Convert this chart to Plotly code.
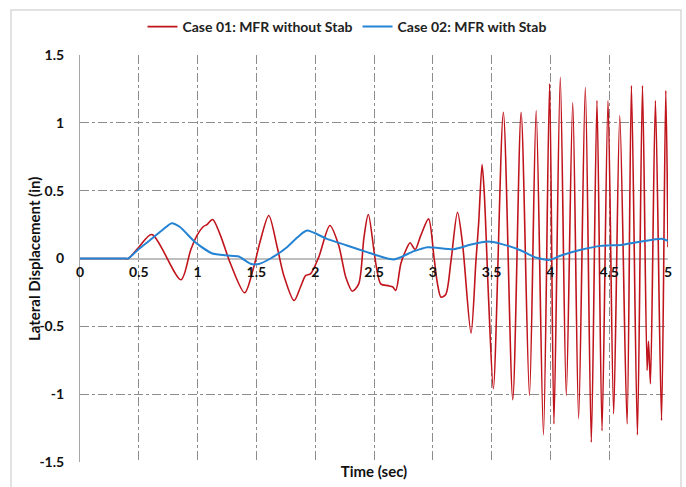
import plotly.graph_objects as go

# ---- data ----
red_t = [0, 0.38, 0.41, 0.50, 0.61, 0.858, 0.94, 0.995, 1.05, 1.08, 1.128, 1.19, 1.28, 1.40,
         1.477, 1.534, 1.605, 1.677, 1.733, 1.82, 1.875, 1.92, 1.96, 2.03, 2.125, 2.20,
         2.26, 2.316, 2.37, 2.415, 2.452, 2.557, 2.62, 2.66, 2.685, 2.728, 2.77, 2.807,
         2.85, 2.898, 2.964, 3.01, 3.04, 3.07, 3.11, 3.155, 3.21, 3.253, 3.325, 3.367,
         3.39, 3.419, 3.438, 3.475, 3.515, 3.60, 3.68, 3.751, 3.822, 3.879, 3.941, 3.993,
         4.03, 4.084, 4.135, 4.19, 4.24, 4.297, 4.348, 4.396, 4.439, 4.49, 4.538, 4.59,
         4.652, 4.689, 4.74, 4.783, 4.822, 4.834, 4.851, 4.893, 4.945, 4.981, 5.0]
red_v = [0, 0, 0, 0.083, 0.177, -0.157, 0.059, 0.17, 0.236, 0.25, 0.287, 0.18, -0.039, -0.253,
         -0.064, 0.133, 0.317, 0.083, -0.125, -0.31, -0.21, -0.125, -0.113, 0.01, 0.243, 0.096,
         -0.138, -0.241, -0.187, 0.157, 0.324, -0.187, -0.20, -0.21, -0.236, -0.039, 0.059, 0.116,
         0.066, 0.17, 0.292, 0.01, -0.187, -0.285, -0.265, -0.015, 0.341, 0.108, -0.55, -0.015,
         0.26, 0.693, 0.477, -0.31, -0.96, 1.078, -1.04, 1.078, -1.01, 1.09, -1.30, 1.29,
         -1.22, 1.336, -1.01, 1.15, -1.18, 1.262, -1.354, 1.164, -1.27, 1.164, -1.145, 1.054,
         -1.22, 1.275, -1.30, 1.275, -0.825, -0.61, -0.923, 1.164, -1.194, 1.238, 0.083]

blue_t = [0, 0.38, 0.41, 0.50, 0.61, 0.70, 0.78, 0.85, 0.98, 1.12, 1.25, 1.35, 1.45, 1.52, 1.62,
          1.76, 1.85, 1.93, 2.10, 2.27, 2.44, 2.53, 2.67, 2.84, 2.955, 3.18, 3.325, 3.467,
          3.58, 3.75, 3.865, 3.99, 4.09, 4.26, 4.43, 4.60, 4.774, 4.945, 5.0]
blue_v = [0, 0, 0, 0.07, 0.145, 0.21, 0.26, 0.232, 0.12, 0.039, 0.022, 0.015, -0.039, -0.04, 0.0,
          0.083, 0.157, 0.206, 0.145, 0.096, 0.047, 0.022, -0.007, 0.054, 0.083, 0.069, 0.103, 0.125,
          0.108, 0.059, 0.01, -0.01, 0.022, 0.064, 0.093, 0.10, 0.125, 0.145, 0.13]

x_ticks = [0, 0.5, 1, 1.5, 2, 2.5, 3, 3.5, 4, 4.5, 5]
x_tick_text = ["0", "0.5", "1", "1.5", "2", "2.5", "3", "3.5", "4", "4.5", "5"]
y_ticks = [-1.5, -1, -0.5, 0, 0.5, 1, 1.5]
y_tick_text = ["-1.5", "-1", "-0.5", "0", "0.5", "1", "1.5"]

FONT = "Lato"
RED = "#C0141C"
BLUE = "#2583D3"
GRID = "#8C8C8C"
TXT = "#111111"

fig = go.Figure()
fig.add_trace(go.Scatter(x=red_t, y=red_v, mode="lines", name="Case 01: MFR without Stab",
                         line=dict(color=RED, width=1.6, shape="spline", smoothing=0.8)))
fig.add_trace(go.Scatter(x=blue_t, y=blue_v, mode="lines", name="Case 02: MFR with Stab",
                         line=dict(color=BLUE, width=2, shape="spline", smoothing=0.6), xaxis="x2"))

W, H = 686, 487
L, R, T, B = 80, 18, 55, 25
pw, ph = W - L - R, H - T - B

def px2paper_x(px):
    return (px - L) / pw

def py2paper_y(py):
    return (H - B - py) / ph

fig.update_layout(
    width=W, height=H,
    margin=dict(l=L, r=R, t=T, b=B, autoexpand=False),
    paper_bgcolor="white", plot_bgcolor="white",
    font=dict(family=FONT, color=TXT),
    showlegend=True,
    legend=dict(orientation="h", x=px2paper_x(347), xanchor="center", y=py2paper_y(27), yanchor="middle",
                font=dict(size=14, family=FONT, color="#222222", weight="bold"),
                bgcolor="rgba(0,0,0,0)"),
    xaxis=dict(range=[0, 5], tickvals=x_ticks, showticklabels=False, showgrid=True,
               gridcolor=GRID, griddash="dashdot", gridwidth=1, zeroline=False,
               showline=False, ticks="",
               title=dict(text="<b>Time (sec)</b>", font=dict(size=15, family=FONT, color=TXT),
                          standoff=4)),
    xaxis2=dict(range=[0, 5], overlaying="x", anchor="free", position=0.5, side="bottom",
                tickvals=x_ticks, ticktext=["<b>%s</b>" % t for t in x_tick_text],
                tickfont=dict(size=14, family=FONT, color=TXT), showgrid=False,
                zeroline=False, showline=False, ticks="", ticklabelstandoff=3),
    yaxis=dict(range=[-1.5, 1.5], tickvals=y_ticks, ticktext=["<b>%s</b>" % t for t in y_tick_text],
               tickfont=dict(size=14, family=FONT, color=TXT), showgrid=True,
               gridcolor=GRID, griddash="dashdot", gridwidth=1,
               zeroline=True, zerolinecolor="#BFBFBF", zerolinewidth=2,
               showline=True, linecolor="#A6A6A6", linewidth=1, ticks="", ticklabelstandoff=12),
    annotations=[dict(text="<b>Lateral Displacement (in)</b>", xref="paper", yref="paper",
                      x=px2paper_x(34), y=py2paper_y(259), xanchor="center", yanchor="middle",
                      textangle=-90, showarrow=False, font=dict(size=15, family=FONT, color=TXT))],
    shapes=[dict(type="rect", xref="paper", yref="paper",
                 x0=px2paper_x(11), x1=px2paper_x(681), y0=py2paper_y(495), y1=py2paper_y(10),
                 line=dict(color="#D9D9D9", width=1.5), fillcolor="rgba(0,0,0,0)", layer="below")],
)

fig.write_html("out.html")
